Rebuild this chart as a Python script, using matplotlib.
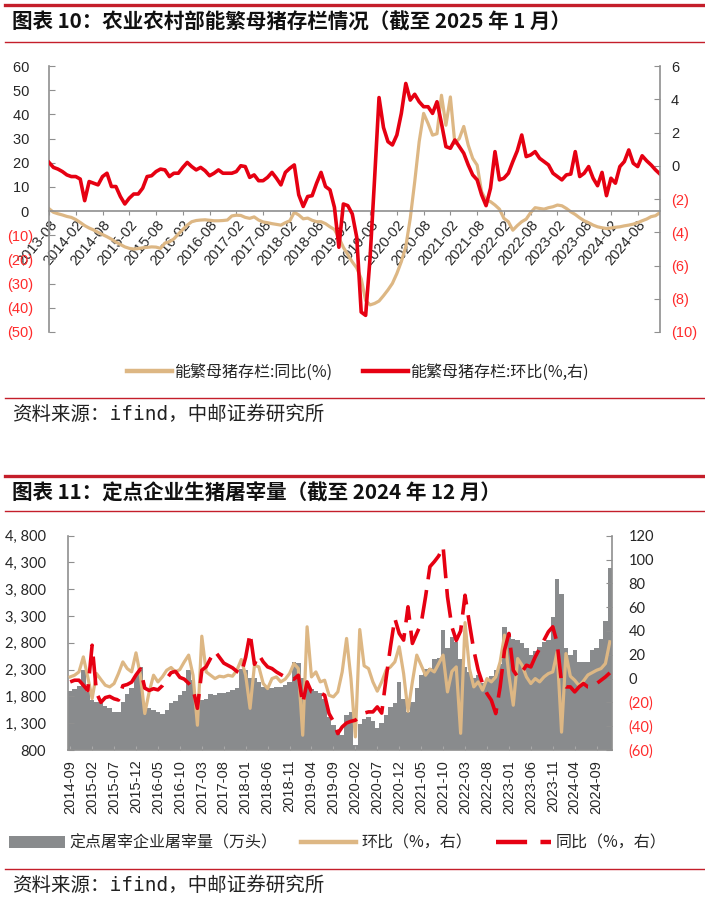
import numpy as np
import pandas as pd
import matplotlib
matplotlib.use("Agg")
import matplotlib.pyplot as plt
from matplotlib.lines import Line2D
from matplotlib.patches import Patch

plt.rcParams['font.family'] = ['Liberation Sans', 'Noto Sans CJK SC', 'DejaVu Sans']
CJK = ['Noto Sans CJK SC', 'DejaVu Sans']
SRC = ['DejaVu Sans Mono', 'Noto Sans CJK SC']

# 图表10: 能繁母猪存栏, 2013-08 .. 2025-01
sow_months = pd.period_range('2013-08', '2025-01', freq='M').strftime('%Y-%m').tolist()
sow_yoy = [1.0, -0.5, -1.1, -1.6, -2.2, -2.6, -3.5, -4.7, -6.0, -7.0,
           -7.8, -8.8, -9.7, -10.6, -11.6, -12.8, -13.8, -14.8, -15.4, -15.7,
           -15.5, -15.2, -15.0, -14.8, -14.9, -15.4, -13.2, -12.7, -11.5, -9.5,
           -7.6, -5.8, -4.4, -3.9, -3.7, -3.6, -3.8, -4.0, -4.0, -3.9,
           -3.7, -2.0, -1.7, -1.8, -2.6, -3.0, -2.4, -3.7, -4.5, -4.8,
           -5.2, -5.5, -5.8, -4.8, -4.0, -0.5, -1.6, -3.2, -2.9, -3.8,
           -4.4, -4.4, -5.2, -6.5, -7.6, -11.0, -15.0, -18.0, -21.0, -23.5,
           -28.0, -37.0, -38.8, -38.2, -37.2, -35.0, -32.6, -29.9, -25.8, -20.9,
           -14.7, -3.0, 12.1, 28.7, 40.4, 36.2, 31.4, 32.0, 47.9, 35.5,
           47.2, 28.0, 30.0, 35.0, 27.3, 21.8, 19.0, 8.0, 4.5, 3.9,
           2.5, 0.8, -3.0, -4.4, -7.9, -6.0, -4.4, -3.3, -0.6, 1.4,
           1.1, 0.8, 1.4, 1.8, 2.5, 2.2, 1.1, -0.3, -1.4, -2.8,
           -4.0, -4.8, -5.8, -6.5, -6.9, -7.2, -7.0, -6.7, -6.5, -6.1,
           -5.8, -5.4, -4.8, -4.0, -3.3, -2.3, -1.9, -0.6]
sow_mom = [0.2, -0.1, -0.2, -0.35, -0.55, -0.65, -0.65, -0.8, -2.1, -0.95,
           -1.05, -1.15, -0.65, -0.45, -1.25, -1.25, -1.85, -2.3, -1.95, -1.7,
           -1.7, -1.35, -0.65, -0.6, -0.35, -0.2, -0.25, -0.65, -0.45, -0.45,
           -0.1, 0.2, -0.05, -0.25, -0.1, -0.3, -0.6, -0.45, -0.25, -0.45,
           -0.45, -0.45, -0.35, 0.0, -0.05, -0.7, -0.55, -0.9, -0.9, -0.7,
           -0.4, -0.75, -1.15, -0.4, -0.15, 0.05, -1.75, -2.45, -1.85, -1.8,
           -1.05, -0.4, -1.25, -1.45, -2.5, -4.9, -2.3, -2.4, -2.9, -4.3,
           -8.8, -9.0, -5.5, -0.8, 4.1, 2.3, 1.45, 1.25, 1.85, 3.15,
           4.95, 3.95, 4.3, 3.85, 3.55, 3.55, 3.15, 3.85, 2.55, 1.15,
           1.05, 1.55, 1.15, 0.75, 0.05, -0.55, -0.85, -1.75, -2.4, -1.35,
           0.85, -0.85, -0.75, -0.45, 0.25, 0.9, 1.85, 0.55, 0.65, 0.85,
           0.45, 0.25, 0.05, -0.45, -0.65, -0.85, -0.55, -0.5, 0.85, -0.65,
           -0.45, -0.05, -0.75, -1.2, -0.4, -1.8, -0.75, -1.05, -0.05, 0.25,
           0.95, 0.15, -0.05, 0.6, 0.3, 0.05, -0.25, -0.5]

# 图表11: 定点屠宰, 2014-09 .. 2024-12
slaughter_months = pd.period_range('2014-09', '2024-12', freq='M').strftime('%Y-%m').tolist()
slaughter = [1900, 1940, 2000, 2300, 1890, 1730, 1700, 1670, 1620, 1575,
             1515, 1510, 1700, 1850, 1950, 2200, 2350, 1545, 1575, 1545,
             1510, 1480, 1545, 1670, 1720, 1825, 1905, 2290, 2100, 1670,
             1730, 1760, 1850, 1825, 1855, 1855, 1885, 1920, 1965, 2320,
             2300, 2135, 2135, 2075, 1980, 1950, 1960, 1980, 1980, 2010,
             2075, 2450, 2420, 2135, 1950, 1935, 1900, 1855, 1760, 1420,
             1265, 1140, 1080, 1450, 1500, 890, 1280, 1370, 1420, 1340,
             1210, 1310, 1450, 1600, 1670, 2060, 1750, 1510, 1700, 1960,
             2200, 2320, 2330, 2500, 2520, 3040, 2700, 2910, 2820, 2500,
             2350, 2250, 2150, 2200, 2050, 2080, 2180, 2300, 2400, 3100,
             2950, 2880, 2850, 2800, 2700, 2580, 2650, 2720, 2820, 2850,
             3290, 4000, 3720, 2700, 2570, 2660, 2450, 2440, 2450, 2660,
             2700, 2880, 3200, 4190]
slaughter_mom = [1.4, 2.8, 5.6, 18.2, 1.4, -16.8, 4.2, -0.8, -5.6, -7.0,
                 -4.2, 4.2, 14.0, 8.4, 5.6, 21.6, 2.8, -29.4, -11.2, 2.8,
                 -2.8, 1.4, 7.0, 9.3, 5.6, 7.6, 14.0, 19.7, 2.8, -39.2,
                 35.6, 5.6, 2.8, 0.0, 2.0, 1.4, 2.8, 2.0, 7.0, 16.0,
                 2.8, -25.0, 11.2, 9.8, -4.2, -8.4, 0.0, 1.4, -2.8, -0.5,
                 4.2, 12.6, 8.4, -47.6, 43.5, 1.4, 5.6, -2.8, -1.4, -14.0,
                 -15.4, -11.2, 5.6, 33.7, 0.0, -49.0, 41.2, 10.7, 8.4, -2.8,
                 -10.6, -2.8, 7.0, 9.8, 14.0, 26.7, 4.2, -27.5, -2.8, 19.7,
                 11.2, 2.8, 8.0, 5.6, 12.6, 19.7, -11.2, 6.0, 9.8, -46.0,
                 47.0, 8.4, -7.0, -2.8, -9.8, 0.0, -2.8, 1.4, 14.0, 36.5,
                 2.8, -22.4, 16.8, 11.2, 1.4, -4.2, 0.0, -2.8, 1.4, 4.2,
                 5.6, 22.5, -45.0, 21.0, 2.0, -1.4, -6.0, -2.0, 3.0, 5.0,
                 7.0, 8.4, 12.6, 30.9]
slaughter_yoy = [-2.8, -1.4, -1.4, -5.6, -10.0, 28.0, -12.0, -20.0, -16.0, -15.0,
                 -17.0, -18.0, -6.0, -5.0, -3.0, 3.0, 8.0, -8.0, -10.0, -8.5,
                 -9.5, -6.0, 0.0, 5.0, 6.0, 1.0, -0.5, -4.0, -9.0, -25.0,
                 7.0, 10.0, 17.0, 23.0, 18.0, 13.0, 11.0, 9.0, 6.0, 4.0,
                 18.0, 38.0, 12.0, 20.0, 14.0, 9.8, 8.4, 5.6, 3.4, 1.4,
                 0.6, -0.5, 2.8, -21.0, -2.8, -11.2, -12.0, -12.0, -14.0, -29.4,
                 -36.0, -46.2, -40.6, -37.3, -35.9, -35.0, -32.0, -29.0, -28.0, -28.0,
                 -23.8, -29.0, 0.0, 26.7, 50.5, 37.9, 32.3, 60.3, 29.5, 38.0,
                 46.3, 68.7, 94.0, 98.2, 103.0, 110.8, 68.7, 43.5, 32.0, 40.0,
                 70.0, 46.3, 23.8, 7.0, -4.2, -12.6, -18.2, -29.4, -7.0, 23.8,
                 37.9, 7.0, 1.4, 5.6, 11.2, 9.8, 18.2, 25.2, 32.3, 39.3,
                 43.5, 30.0, -4.0, -7.0, -7.0, -11.2, -7.0, -4.2, -7.0, -7.0,
                 -4.2, -1.4, 1.4, 4.8]

TAN = '#DDB784'
RED = '#E60012'
BAR_GRAY = '#898B8D'
AX_GRAY = '#8F8F8F'
NEG = '#FF2B2B'
LINE_RED = '#C41E2A'
TXT = '#262626'

W, H = 705, 908
fig = plt.figure(figsize=(W / 100, H / 100), dpi=100)


def fx(x):
    return x / W


def fy(y):
    return 1 - y / H


def hline(y, lw):
    fig.add_artist(Line2D([fx(5), 1], [fy(y), fy(y)], color=LINE_RED, lw=lw,
                          transform=fig.transFigure))


def paren(v):
    return f'({abs(v):g})' if v < 0 else f'{v:g} '


def color_neg(ax, ticks):
    for lab, t in zip(ax.get_yticklabels(), ticks):
        lab.set_color(NEG if t < 0 else TXT)


# header / footer rules and texts
hline(5, 2.4)
hline(42, 1.0)
hline(398, 1.0)
hline(476, 2.4)
hline(511, 1.0)
hline(869, 1.0)
fig.text(fx(12), fy(22), '图表 10：农业农村部能繁母猪存栏情况（截至 2025 年 1 月）',
         family=CJK, fontsize=14.8, fontweight='bold', va='center', color='#111111')
fig.text(fx(12), fy(414), '资料来源：ifind，中邮证券研究所', family=SRC, fontsize=14,
         va='center', color='#222222')
fig.text(fx(12), fy(492), '图表 11：定点企业生猪屠宰量（截至 2024 年 12 月）',
         family=CJK, fontsize=14.8, fontweight='bold', va='center', color='#111111')
fig.text(fx(12), fy(885), '资料来源：ifind，中邮证券研究所', family=SRC, fontsize=14,
         va='center', color='#222222')

# ---- chart 10
ax1 = fig.add_axes([fx(49), fy(332), (660 - 49) / W, (332 - 66) / H])
for s in ['top', 'right']:
    ax1.spines[s].set_visible(False)
ax1.spines['bottom'].set_position(('data', 0))
for s in ['bottom', 'left']:
    ax1.spines[s].set_color(AX_GRAY)
    ax1.spines[s].set_linewidth(1.2)
x1 = np.arange(len(sow_months))
ax1.plot(x1, sow_yoy, color=TAN, lw=2.3)
ax1.set_xlim(0, len(sow_months) - 1)
ax1.set_ylim(-50, 60)
ly = list(range(-50, 61, 10))
ax1.set_yticks(ly, labels=[paren(v) for v in ly])
color_neg(ax1, ly)
ax1.tick_params(axis='y', direction='in', length=4, color=AX_GRAY, pad=11, labelsize=10.5)
xt = list(range(0, len(sow_months), 6))
ax1.tick_params(axis='x', direction='out', length=3, color=AX_GRAY, pad=2,
                labelsize=10.5, labelcolor=TXT)
ax1.set_xticks(xt, labels=[sow_months[i] for i in xt], rotation=50, ha='right',
               va='top', rotation_mode='anchor')

ax1r = ax1.twinx()
ax1r.plot(x1, sow_mom, color=RED, lw=2.6)
ax1r.set_ylim(-10, 6)
ry = list(range(-10, 7, 2))
ax1r.set_yticks(ry, labels=[paren(v).strip() for v in ry])
color_neg(ax1r, ry)
ax1r.tick_params(axis='y', direction='in', length=4, color=AX_GRAY, pad=8, labelsize=10.5)
for s in ['top', 'bottom', 'left']:
    ax1r.spines[s].set_visible(False)
ax1r.spines['right'].set_color(AX_GRAY)
ax1r.spines['right'].set_linewidth(1.2)

h1 = [Line2D([], [], color=TAN, lw=3.2), Line2D([], [], color=RED, lw=3.2)]
fig.legend(h1, ['能繁母猪存栏:同比(%)', '能繁母猪存栏:环比(%,右)'], loc='center',
           bbox_to_anchor=(fx(358), fy(372)), ncol=2, frameon=False, handlelength=2.8,
           handletextpad=0.15, columnspacing=1.9, prop={'family': CJK, 'size': 11.5},
           labelcolor=TXT)

# ---- chart 11
ax2 = fig.add_axes([fx(68), fy(750), (612 - 68) / W, (750 - 535.7) / H])
x2 = np.arange(len(slaughter_months))
ax2.bar(x2, slaughter, width=1.0, color=BAR_GRAY, lw=0)
ax2.set_xlim(-0.5, len(x2) - 0.5)
ax2.set_ylim(800, 4800)
by = list(range(800, 4801, 500))
ax2.set_yticks(by, labels=[f'{v:,}'.replace(',', ', ') for v in by])
ax2.tick_params(axis='y', direction='in', length=4, color=AX_GRAY, pad=16, labelsize=10.5,
                labelcolor=TXT, labelfontfamily='Lato')
xt2 = list(range(0, len(x2), 5))
ax2.set_xticks(xt2, labels=[slaughter_months[i] for i in xt2], rotation=90)
ax2.tick_params(axis='x', direction='in', length=3, color='#A8A8A8', pad=7,
                labelsize=10.5, labelcolor=TXT)
for s in ['top', 'right']:
    ax2.spines[s].set_visible(False)
for s in ['bottom', 'left']:
    ax2.spines[s].set_color(AX_GRAY)
    ax2.spines[s].set_linewidth(1.2)

ax2r = ax2.twinx()
ax2r.plot(x2, slaughter_mom, color=TAN, lw=2.3)
ax2r.plot(x2, slaughter_yoy, color=RED, lw=2.6, dashes=(8, 3))
ax2r.set_ylim(-60, 120)
r2 = list(range(-60, 121, 20))
ax2r.set_yticks(r2, labels=[paren(v).strip() for v in r2])
color_neg(ax2r, r2)
ax2r.tick_params(axis='y', direction='in', length=4, color=AX_GRAY, pad=12, labelsize=10.5,
                 labelfontfamily='Lato')
for s in ['top', 'bottom', 'left']:
    ax2r.spines[s].set_visible(False)
ax2r.spines['right'].set_color(AX_GRAY)
ax2r.spines['right'].set_linewidth(1.2)

h2 = [Patch(facecolor=BAR_GRAY, edgecolor='none'),
      Line2D([], [], color=TAN, lw=3.2),
      Line2D([], [], color=RED, lw=3.2, dashes=(7, 3))]
fig.legend(h2, ['定点屠宰企业屠宰量（万头）', '环比（%，右）', '同比（%，右）'], loc='center',
           bbox_to_anchor=(fx(338), fy(843)), ncol=3, frameon=False, handlelength=3.45,
           handletextpad=0.3, columnspacing=1.5, prop={'family': CJK, 'size': 11.5},
           labelcolor=TXT)

fig.savefig('out.png', dpi=100)
